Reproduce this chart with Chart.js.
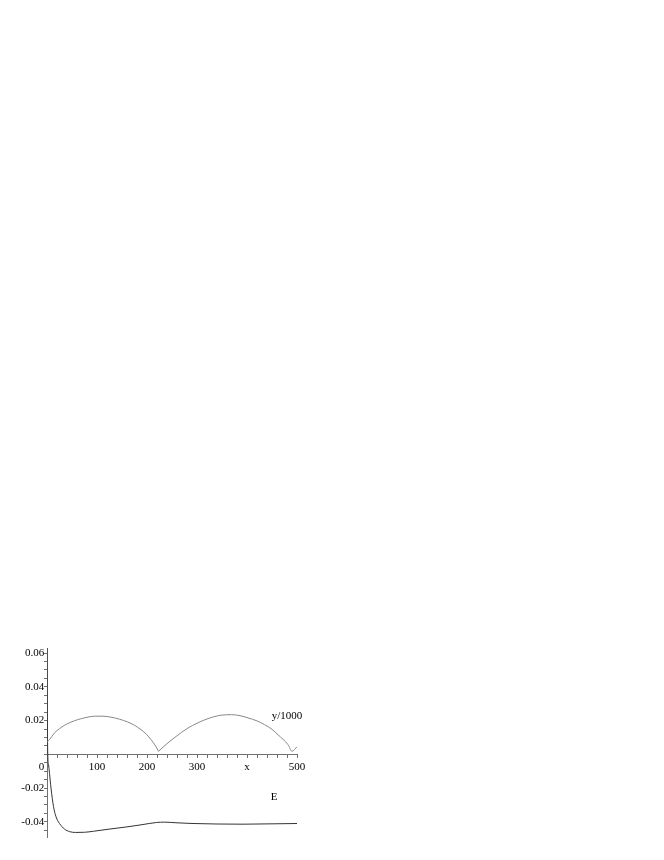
<!DOCTYPE html>
<html>
<head>
<meta charset="utf-8">
<script src="https://cdn.jsdelivr.net/npm/chart.js@4.4.1/dist/chart.umd.min.js"></script>
<style>
  html, body { margin: 0; padding: 0; background: #fff; }
  #plot { display: block; }
</style>
</head>
<body>
<canvas id="plot" width="664" height="860"></canvas>
<script>
'use strict';

// y/1000, first arch (x from 0 up to the dip)
const arc1X = [0, 5, 15, 25, 35, 48, 61, 78, 95, 112, 128, 145, 161, 175, 188, 199, 208, 216, 223];
const arc1Y = [0.0075, 0.0087, 0.0127, 0.0152, 0.0172, 0.0191, 0.0205, 0.0218, 0.0226, 0.0226, 0.0220, 0.0208, 0.0192, 0.0172, 0.0146, 0.0118, 0.0087, 0.0055, 0.0018];

// y/1000, second arch
const arc2X = [223, 236, 256, 282, 300, 316, 333, 349, 369, 386, 402, 420, 435, 450, 462, 482, 490, 500];
const arc2Y = [0.0018, 0.0053, 0.0101, 0.0156, 0.0184, 0.0205, 0.0222, 0.0232, 0.0235, 0.0229, 0.0216, 0.0198, 0.0176, 0.0148, 0.0116, 0.0057, 0.0018, 0.0045];

// E
const eX = [0, 0.5, 1.5, 3, 5, 8, 13, 18, 25, 35, 45, 57, 75, 93, 120, 160, 190, 219, 235, 260, 292, 340, 392, 450, 500];
const eY = [0.063, 0.03, 0.0, -0.006, -0.0113, -0.02, -0.031, -0.037, -0.041, -0.0443, -0.0458, -0.0463, -0.0462, -0.0456, -0.0445, -0.0430, -0.0417, -0.0404, -0.0402, -0.0406, -0.0410, -0.0413, -0.0414, -0.0412, -0.0410];

// tick labels (the origin label sits a little left of the axis, hence the em space)
const xTickLabels = { 0: '0\u2003', 100: '100', 200: '200', 300: '300', 400: 'x', 500: '500' };
const yTickValues = [0.06, 0.04, 0.02, -0.02, -0.04];

// curve names written next to the curves
const curveNames = [
    { text: 'y/1000', x: 480, y: 0.0227 },
    { text: 'E', x: 454, y: -0.0254 }
];

function pts(xs, ys) {
    return xs.map((x, i) => ({ x: x, y: ys[i] }));
}

const serif = "'Liberation Serif', 'DejaVu Serif', serif";

const curveNamePlugin = {
    id: 'curveNames',
    afterDatasetsDraw(chart) {
        const ctx = chart.ctx;
        const xs = chart.scales.x;
        const ys = chart.scales.y;
        ctx.save();
        ctx.fillStyle = '#000';
        ctx.font = '11px ' + serif;
        ctx.textAlign = 'center';
        ctx.textBaseline = 'middle';
        curveNames.forEach(n => {
            ctx.fillText(n.text, xs.getPixelForValue(n.x), ys.getPixelForValue(n.y));
        });
        ctx.restore();
    }
};

const lineStyle = {
    showLine: true,
    fill: false,
    pointRadius: 0,
    cubicInterpolationMode: 'monotone'
};

new Chart(document.getElementById('plot'), {
    type: 'scatter',
    data: {
        datasets: [
            Object.assign({ label: 'y/1000', data: pts(arc1X, arc1Y), borderColor: '#888', borderWidth: 1 }, lineStyle),
            Object.assign({ label: 'y/1000', data: pts(arc2X, arc2Y), borderColor: '#888', borderWidth: 1 }, lineStyle),
            Object.assign({ label: 'E', data: pts(eX, eY), borderColor: '#333', borderWidth: 1 }, lineStyle)
        ]
    },
    options: {
        responsive: false,
        animation: false,
        events: [],
        layout: { padding: { left: 47, right: 367, top: 648, bottom: 23 } },
        plugins: {
            legend: { display: false },
            tooltip: { enabled: false }
        },
        scales: {
            x: {
                type: 'linear',
                position: { y: 0 },
                min: 0,
                max: 500,
                border: { display: true, color: '#707070', width: 1 },
                grid: { drawOnChartArea: false, drawTicks: true, tickLength: 3, color: '#707070' },
                ticks: {
                    stepSize: 20,
                    includeBounds: false,
                    autoSkip: false,
                    maxRotation: 0,
                    padding: 3,
                    color: '#000',
                    font: { family: serif, size: 11 },
                    callback: v => (xTickLabels[v] !== undefined ? xTickLabels[v] : '')
                }
            },
            y: {
                type: 'linear',
                position: { x: 0 },
                min: -0.049,
                max: 0.063,
                border: { display: true, color: '#707070', width: 1 },
                grid: { drawOnChartArea: false, drawTicks: true, tickLength: 3, color: '#707070' },
                ticks: {
                    stepSize: 0.005,
                    includeBounds: false,
                    autoSkip: false,
                    padding: 2,
                    color: '#000',
                    font: { family: serif, size: 11 },
                    callback: v => {
                        const hit = yTickValues.find(t => Math.abs(t - v) < 1e-6);
                        return hit !== undefined ? String(hit) + ' ' : '';
                    }
                }
            }
        }
    },
    plugins: [curveNamePlugin]
});
</script>
</body>
</html>
